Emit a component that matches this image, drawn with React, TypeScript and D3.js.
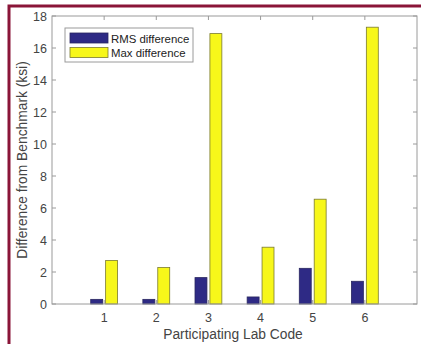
import React, { useEffect, useRef } from 'react';
import * as d3 from 'd3';

// lab codes on the x axis
const labCodes = [1, 2, 3, 4, 5, 6];
const rmsDiff = [0.29, 0.29, 1.65, 0.44, 2.23, 1.42];
const maxDiff = [2.72, 2.28, 16.9, 3.55, 6.55, 17.3];
const yTicks = [0, 2, 4, 6, 8, 10, 12, 14, 16, 18];
const seriesNames = ['RMS difference', 'Max difference'];
const seriesColors = ['#2e2a85', '#f7f71a'];

const W = 421;
const H = 344;

export default function App() {
  const ref = useRef<SVGSVGElement | null>(null);

  useEffect(() => {
    const svg = d3.select(ref.current);
    svg.selectAll('*').remove();

    const left = 52, right = 417, top = 16, bottom = 304;
    const x = d3.scaleLinear().domain([0, 7]).range([left, right]);
    const y = d3.scaleLinear().domain([0, 18]).range([bottom, top]);
    const font = 'Liberation Sans, Arial, sans-serif';
    const axisColor = '#9a9a9a';
    const textColor = '#444';

    svg.append('rect').attr('width', W).attr('height', H).attr('fill', '#fff');

    // maroon frame (top and left edges visible)
    svg.append('path')
      .attr('d', `M9,${H} V6 H${W}`)
      .attr('fill', 'none')
      .attr('stroke', '#8a1538')
      .attr('stroke-width', 3);

    // grouped bars, MATLAB style widths
    const barW = x(0.229) - x(0);
    const offsets = [-0.143, 0.143];
    [rmsDiff, maxDiff].forEach((vals, s) => {
      svg.append('g')
        .selectAll('rect')
        .data(vals)
        .enter()
        .append('rect')
        .attr('x', (d, i) => x(labCodes[i] + offsets[s]) - barW / 2)
        .attr('y', d => y(d))
        .attr('width', barW)
        .attr('height', d => y(0) - y(d))
        .attr('fill', seriesColors[s])
        .attr('stroke', s === 0 ? '#2a2760' : '#7a7a30')
        .attr('stroke-width', 0.8);
    });

    // box
    svg.append('rect')
      .attr('x', left).attr('y', top)
      .attr('width', right - left).attr('height', bottom - top)
      .attr('fill', 'none').attr('stroke', axisColor).attr('stroke-width', 1);

    const tl = 4;
    const ticks = svg.append('g').attr('stroke', axisColor).attr('stroke-width', 1);
    labCodes.forEach(c => {
      ticks.append('line').attr('x1', x(c)).attr('x2', x(c)).attr('y1', bottom).attr('y2', bottom - tl);
      ticks.append('line').attr('x1', x(c)).attr('x2', x(c)).attr('y1', top).attr('y2', top + tl);
    });
    yTicks.forEach(t => {
      ticks.append('line').attr('x1', left).attr('x2', left + tl).attr('y1', y(t)).attr('y2', y(t));
      ticks.append('line').attr('x1', right).attr('x2', right - tl).attr('y1', y(t)).attr('y2', y(t));
    });

    svg.append('g')
      .selectAll('text')
      .data(labCodes)
      .enter()
      .append('text')
      .attr('x', d => x(d))
      .attr('y', bottom + 18)
      .attr('text-anchor', 'middle')
      .attr('font-family', font)
      .attr('font-size', 12.5)
      .attr('fill', textColor)
      .text(d => d);

    svg.append('g')
      .selectAll('text')
      .data(yTicks)
      .enter()
      .append('text')
      .attr('x', left - 5)
      .attr('y', d => y(d) + 4.5)
      .attr('text-anchor', 'end')
      .attr('font-family', font)
      .attr('font-size', 12.5)
      .attr('fill', textColor)
      .text(d => d);

    svg.append('text')
      .attr('x', 233)
      .attr('y', 339)
      .attr('text-anchor', 'middle')
      .attr('font-family', font)
      .attr('font-size', 13.8)
      .attr('fill', textColor)
      .text('Participating Lab Code');

    svg.append('text')
      .attr('transform', `translate(27,${(top + bottom) / 2}) rotate(-90)`)
      .attr('text-anchor', 'middle')
      .attr('font-family', font)
      .attr('font-size', 13.8)
      .attr('fill', textColor)
      .text('Difference from Benchmark (ksi)');

    // legend
    const lg = svg.append('g').attr('transform', 'translate(65,28)');
    lg.append('rect').attr('width', 128).attr('height', 34)
      .attr('fill', '#fff').attr('stroke', axisColor).attr('stroke-width', 1);
    seriesNames.forEach((name, i) => {
      lg.append('rect')
        .attr('x', 5).attr('y', 5 + i * 14.5)
        .attr('width', 38).attr('height', 10)
        .attr('fill', seriesColors[i])
        .attr('stroke', i === 0 ? '#2a2760' : '#7a7a30')
        .attr('stroke-width', 0.8);
      lg.append('text')
        .attr('x', 46).attr('y', 14.5 + i * 14.5)
        .attr('font-family', font)
        .attr('font-size', 11.4)
        .attr('fill', '#222')
        .text(name);
    });
  }, []);

  return (
    <svg ref={ref} width={W} height={H} style={{ position: 'absolute', left: 0, top: 0 }} />
  );
}
